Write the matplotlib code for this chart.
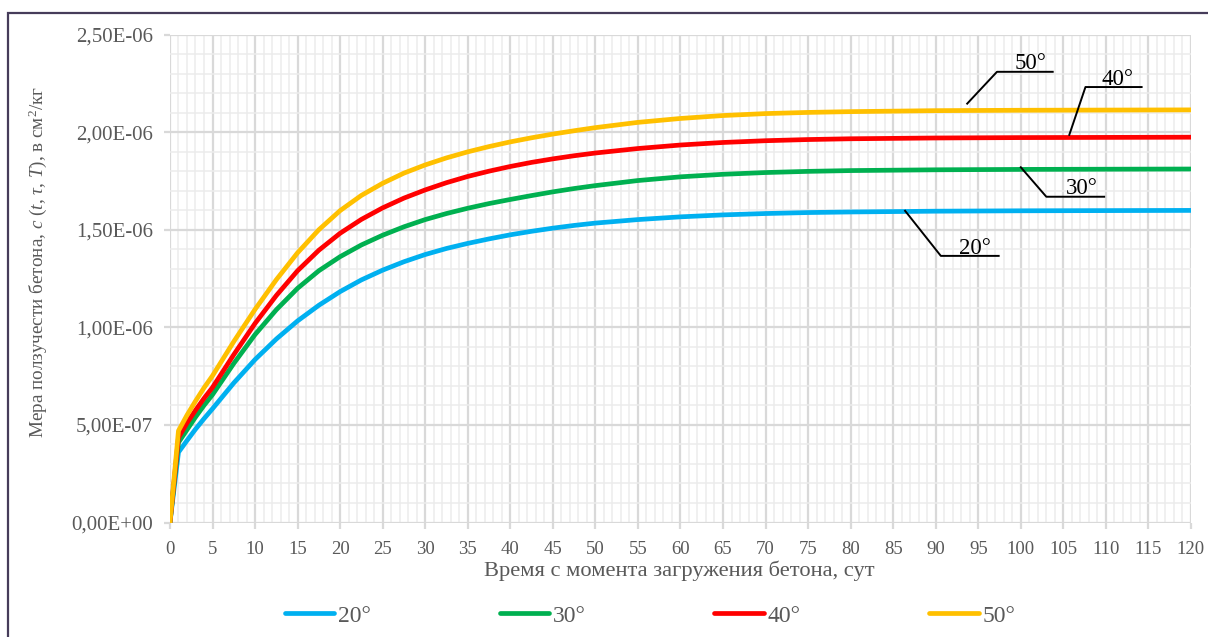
import matplotlib
matplotlib.use("Agg")
import matplotlib.pyplot as plt
from matplotlib.patches import Rectangle
from matplotlib.ticker import MultipleLocator, FuncFormatter

plt.rcParams['font.family'] = ['Liberation Serif', 'DejaVu Serif']
plt.rcParams['mathtext.fontset'] = 'custom'
plt.rcParams['mathtext.rm'] = 'Liberation Serif'
plt.rcParams['mathtext.it'] = 'Liberation Serif:italic'

# ---- data (creep measure, units of 1e-6 cm^2/kg) ----
t = [0, 1, 2, 3, 4, 5, 7.5, 10, 12.5, 15, 17.5, 20, 22.5, 25, 27.5, 30, 32.5,
     35, 37.5, 40, 42.5, 45, 47.5, 50, 55, 60, 65, 70, 75, 80, 90, 100, 110, 120]
c20 = [0, 0.36, 0.42, 0.478, 0.532, 0.583, 0.715, 0.835, 0.94, 1.033, 1.113,
       1.183, 1.243, 1.293, 1.336, 1.373, 1.404, 1.43, 1.453, 1.474, 1.492,
       1.508, 1.522, 1.534, 1.552, 1.566, 1.576, 1.583, 1.588, 1.591, 1.595,
       1.597, 1.598, 1.599]
c30 = [0, 0.41, 0.475, 0.54, 0.60, 0.655, 0.815, 0.963, 1.09, 1.20, 1.29,
       1.362, 1.422, 1.472, 1.515, 1.552, 1.583, 1.61, 1.634, 1.655, 1.675,
       1.694, 1.711, 1.726, 1.752, 1.771, 1.784, 1.793, 1.799, 1.803, 1.807,
       1.809, 1.81, 1.811]
c40 = [0, 0.435, 0.51, 0.575, 0.636, 0.692, 0.86, 1.02, 1.163, 1.29, 1.395,
       1.482, 1.553, 1.612, 1.662, 1.704, 1.741, 1.773, 1.80, 1.824, 1.845,
       1.863, 1.879, 1.893, 1.916, 1.934, 1.947, 1.956, 1.962, 1.966, 1.97,
       1.972, 1.973, 1.974]
c50 = [0, 0.47, 0.55, 0.622, 0.69, 0.752, 0.927, 1.092, 1.244, 1.382, 1.50,
       1.598, 1.676, 1.738, 1.79, 1.832, 1.868, 1.899, 1.926, 1.95, 1.971,
       1.99, 2.007, 2.023, 2.05, 2.07, 2.085, 2.095, 2.101, 2.105, 2.11,
       2.112, 2.113, 2.114]
series_labels = ['20°', '30°', '40°', '50°']
series_values = [c20, c30, c40, c50]
colors = ['#00B0F0', '#00B050', '#FF0000', '#FFC000']

xlabel = 'Время с момента загружения бетона, сут'
ylabel = 'Мера ползучести бетона, $c$ ($t$, $\\tau$, $T$), в см$^2$/кг'

fig = plt.figure(figsize=(12.08, 6.37), dpi=100)
ax = fig.add_axes([0.1407, 0.1797, 0.8452, 0.7661])

for vals, col, lab in zip(series_values, colors, series_labels):
    ax.plot(t, [v * 1e-6 for v in vals], color=col, lw=3.4, label=lab,
            solid_capstyle='round', solid_joinstyle='round', zorder=3)

ax.set_xlim(0, 120)
ax.set_ylim(0, 2.5e-6)
ax.xaxis.set_major_locator(MultipleLocator(5))
ax.xaxis.set_minor_locator(MultipleLocator(1))
ax.yaxis.set_major_locator(MultipleLocator(5e-7))
ax.yaxis.set_minor_locator(MultipleLocator(1e-7))

def yfmt(v, pos):
    if abs(v) < 1e-12:
        return '0,00E+00'
    s = '%.2E' % v
    mant, exp = s.split('E')
    sign = exp[0]
    return mant.replace('.', ',') + 'E' + sign + exp[1:].zfill(2)
ax.yaxis.set_major_formatter(FuncFormatter(yfmt))

ax.grid(which='major', color='#d9d9d9', lw=1.6, zorder=1)
ax.grid(which='minor', color='#ececec', lw=1.1, zorder=0)
ax.set_axisbelow(True)
for sp in ax.spines.values():
    sp.set_visible(False)
ax.tick_params(which='major', length=4, width=1.6, color='#d9d9d9',
               labelcolor='#595959', labelsize=15)
ax.tick_params(axis='x', which='major', pad=9.5, labelsize=13.5)
ax.tick_params(axis='y', which='major', pad=8)
ax.tick_params(which='minor', length=0)

fig.text(0.5621, 0.1036, xlabel, ha='center', va='center', fontsize=16.2,
         color='#595959')
fig.text(0.031, 0.5895, ylabel, ha='center', va='center', rotation=90,
         fontsize=13.8, color='#595959')

# leader-line annotations (data coordinates)
ann = [
    ('50°', [(93.7, 2.146e-6), (97.2, 2.309e-6), (103.75, 2.309e-6)], 101.1),
    ('40°', [(105.7, 1.986e-6), (107.6, 2.231e-6), (114.2, 2.231e-6)], 111.4),
    ('30°', [(100.0, 1.820e-6), (103.0, 1.669e-6), (109.8, 1.669e-6)], 107.2),
    ('20°', [(86.4, 1.597e-6), (90.6, 1.366e-6), (97.4, 1.366e-6)], 94.6),
]
for lab, pts, tx in ann:
    xs = [p[0] for p in pts]
    ys = [p[1] for p in pts]
    ax.plot(xs, ys, color='black', lw=1.4, zorder=4)
    ax.text(tx, ys[-1] + 0.012e-6, lab, ha='center', va='baseline',
            fontsize=16.5, color='black', zorder=5)

leg = fig.legend(loc='center', bbox_to_anchor=(0.538, 0.033), ncol=4,
                 frameon=False, fontsize=17, handlelength=2.1,
                 handletextpad=0.15, columnspacing=5.45, labelcolor='#595959')

# chart-area border (only left and top visible in the crop)
fig.patches.append(Rectangle((8 / 1208, -0.2), 1.5, 1.2 - 13 / 637,
                             transform=fig.transFigure, fill=False,
                             edgecolor='#463c5a', lw=1.6))

fig.savefig('out.png', dpi=100)
